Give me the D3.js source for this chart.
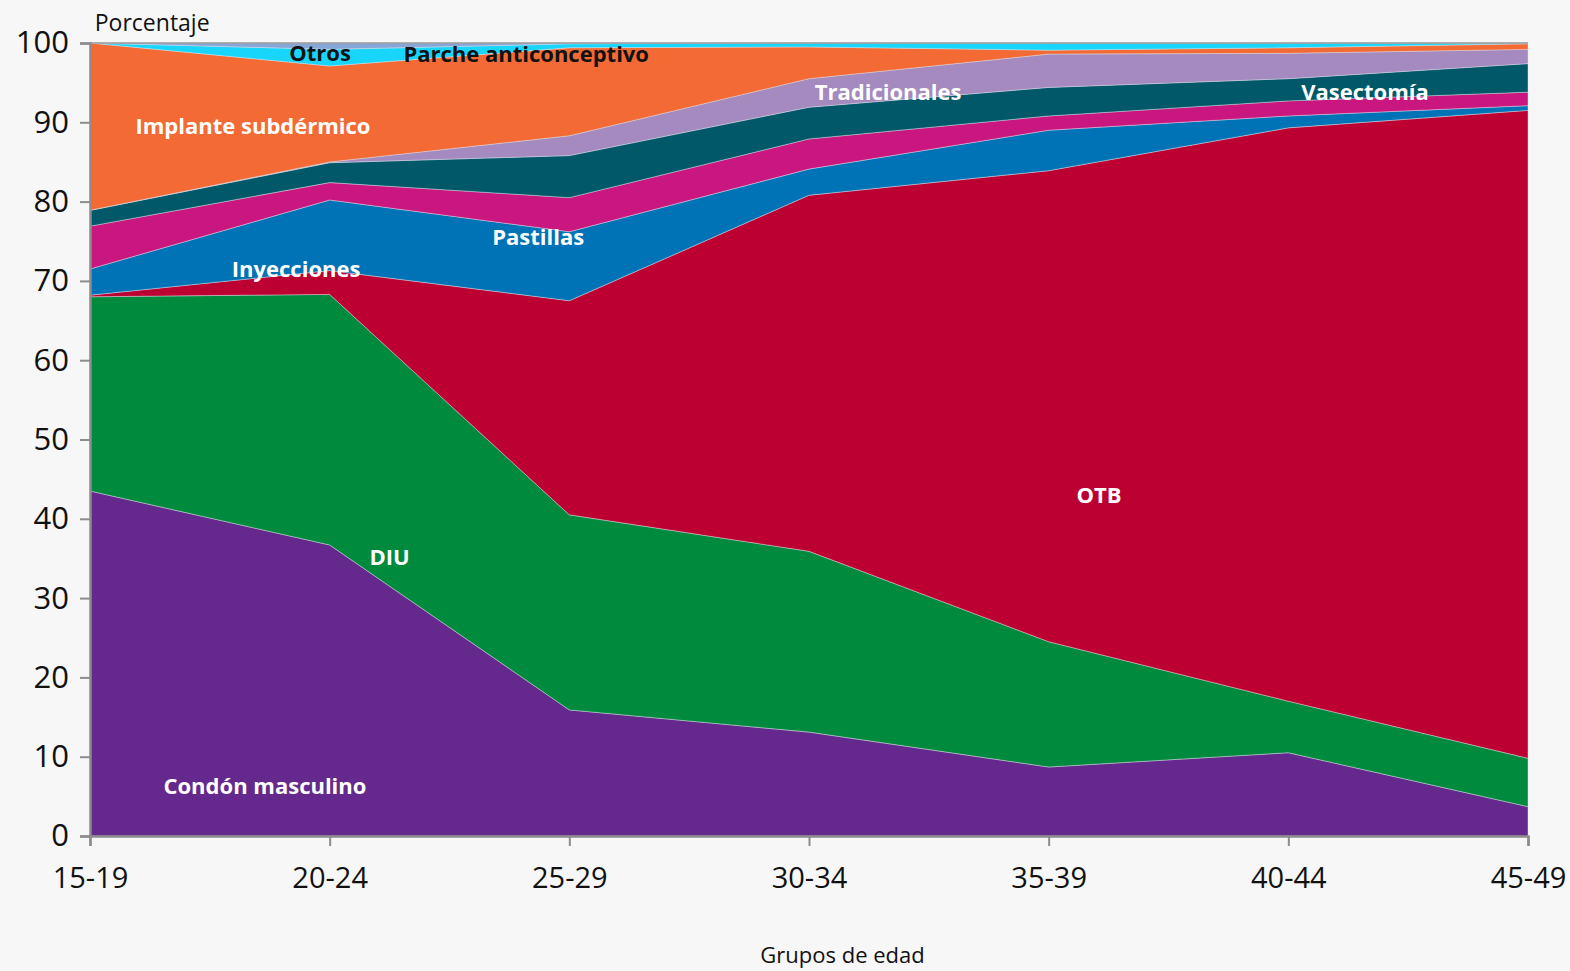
<!DOCTYPE html>
<html>
<head>
<meta charset="utf-8">
<script src="https://cdn.jsdelivr.net/npm/d3@7"></script>
<style>
  body { margin: 0; background: #f7f7f7; }
  svg { display: block; font-family: "Open Sans", sans-serif; }
</style>
</head>
<body>
<div id="chart"></div>
<script>
// Age groups on the x axis.
const ageGroups = ["15-19", "20-24", "25-29", "30-34", "35-39", "40-44", "45-49"];

// Share of each method (percent), stacked bottom to top.
const condonMasculino = [43.5, 36.7, 15.9, 13.1, 8.7, 10.5, 3.7];
const diu = [24.5, 31.6, 24.6, 22.8, 15.8, 6.5, 6.1];
const otb = [0.2, 3.0, 27.0, 44.9, 59.4, 72.3, 81.7];
const inyecciones = [3.3, 8.9, 8.7, 3.3, 5.1, 1.5, 0.6];
const pastillas = [5.4, 2.2, 4.3, 3.8, 1.8, 1.9, 1.7];
const vasectomia = [2.0, 2.5, 5.3, 4.0, 3.6, 2.8, 3.6];
const tradicionales = [0.0, 0.1, 2.5, 3.6, 4.2, 3.2, 1.8];
const implante = [21.1, 12.1, 11.1, 4.0, 0.5, 0.7, 0.7];
const otros = [0.0, 2.1, 0.5, 0.5, 0.9, 0.6, 0.1];
const parche = [0.0, 0.8, 0.1, 0.0, 0.0, 0.0, 0.0];

const yTicks = [0, 10, 20, 30, 40, 50, 60, 70, 80, 90, 100];

const series = [
  { key: "Condón masculino", values: condonMasculino, color: "#65298d" },
  { key: "DIU", values: diu, color: "#008a3e" },
  { key: "OTB", values: otb, color: "#bd0032" },
  { key: "Inyecciones", values: inyecciones, color: "#0072b6" },
  { key: "Pastillas", values: pastillas, color: "#c9177f" },
  { key: "Vasectomía", values: vasectomia, color: "#005868" },
  { key: "Tradicionales", values: tradicionales, color: "#a48abe" },
  { key: "Implante subdérmico", values: implante, color: "#f46a35" },
  { key: "Otros", values: otros, color: "#18d6fb" },
  { key: "Parche anticonceptivo", values: parche, color: "#86a6d8" }
];

// Text labels placed in data units (category index, percent).
const labels = [
  { text: "Porcentaje", i: 0.02, v: 102.7, color: "#111", bold: false, anchor: "start", size: 23 },
  { text: "Otros", i: 0.96, v: 98.9, color: "#111", bold: true },
  { text: "Parche anticonceptivo", i: 1.82, v: 98.7, color: "#111", bold: true },
  { text: "Implante subdérmico", i: 0.68, v: 89.7, color: "#fff", bold: true },
  { text: "Tradicionales", i: 3.33, v: 94.0, color: "#fff", bold: true },
  { text: "Vasectomía", i: 5.32, v: 94.0, color: "#fff", bold: true },
  { text: "Pastillas", i: 1.87, v: 75.7, color: "#fff", bold: true },
  { text: "Inyecciones", i: 0.86, v: 71.6, color: "#fff", bold: true },
  { text: "OTB", i: 4.21, v: 43.1, color: "#fff", bold: true },
  { text: "DIU", i: 1.25, v: 35.3, color: "#fff", bold: true },
  { text: "Condón masculino", i: 0.73, v: 6.4, color: "#fff", bold: true }
];

const width = 1570,
  height = 971;
const margin = { top: 43, right: 42, bottom: 135, left: 90 };

const svg = d3
  .select("#chart")
  .append("svg")
  .attr("width", width)
  .attr("height", height);

const x = d3
  .scalePoint()
  .domain(ageGroups)
  .range([margin.left, width - margin.right]);

// Same span as x, for placing labels between categories.
const xi = d3
  .scaleLinear()
  .domain([0, ageGroups.length - 1])
  .range([margin.left, width - margin.right]);

const y = d3
  .scaleLinear()
  .domain([0, 100])
  .range([height - margin.bottom, margin.top]);

// Build table rows for d3.stack.
const rows = ageGroups.map((g, i) => {
  const row = { group: g };
  series.forEach((s) => (row[s.key] = s.values[i]));
  return row;
});

const stacked = d3.stack().keys(series.map((s) => s.key))(rows);

const area = d3
  .area()
  .x((d) => x(d.data.group))
  .y0((d) => y(d[0]))
  .y1((d) => y(d[1]));

svg
  .append("g")
  .selectAll("path")
  .data(stacked)
  .enter()
  .append("path")
  .attr("d", area)
  .attr("fill", (d, i) => series[i].color)
  .attr("stroke", "rgba(220,225,235,0.55)")
  .attr("stroke-width", 0.8);

// Top edge line.
svg
  .append("line")
  .attr("x1", margin.left)
  .attr("x2", width - margin.right)
  .attr("y1", y(100))
  .attr("y2", y(100))
  .attr("stroke", "#9a9a9a")
  .attr("stroke-width", 1.5);

// Y axis.
const yAxis = svg
  .append("g")
  .attr("transform", `translate(${margin.left},0)`)
  .call(d3.axisLeft(y).tickValues(yTicks).tickSize(10).tickPadding(11));

// X axis.
const xAxis = svg
  .append("g")
  .attr("transform", `translate(0,${y(0)})`)
  .call(d3.axisBottom(x).tickSize(10).tickPadding(21));

[yAxis, xAxis].forEach((ax) => {
  ax.select(".domain").attr("stroke", "#8c8c8c").attr("stroke-width", 2.5);
  ax.selectAll(".tick line").attr("stroke", "#8c8c8c").attr("stroke-width", 2);
  ax.selectAll(".tick text")
    .attr("fill", "#111")
    .style("font-size", "29px")
    .style("font-family", '"Open Sans", sans-serif');
});
yAxis.selectAll(".tick text").style("font-size", "31px");

// Axis title.
svg
  .append("text")
  .attr("x", xi(3.14))
  .attr("y", 954)
  .attr("text-anchor", "middle")
  .attr("dominant-baseline", "central")
  .attr("fill", "#111")
  .style("font-size", "22px")
  .text("Grupos de edad");

// Series labels.
svg
  .append("g")
  .selectAll("text")
  .data(labels)
  .enter()
  .append("text")
  .attr("x", (d) => xi(d.i))
  .attr("y", (d) => y(d.v))
  .attr("text-anchor", (d) => d.anchor || "middle")
  .attr("dominant-baseline", "central")
  .attr("fill", (d) => d.color)
  .style("font-weight", (d) => (d.bold ? "bold" : "normal"))
  .style("font-size", (d) => (d.size || 22) + "px")
  .text((d) => d.text);
</script>
</body>
</html>
